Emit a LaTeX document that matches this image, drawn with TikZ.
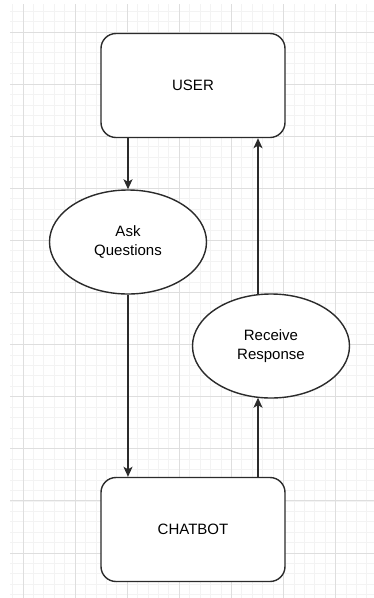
\documentclass[tikz,border=0pt]{standalone}
\usepackage{fontspec}
\setmainfont{Liberation Sans}
\usepackage{tikz}
\usetikzlibrary{shapes.geometric, arrows.meta, positioning, calc}
\definecolor{gridminor}{HTML}{F3F3F3}
\definecolor{gridmajor}{HTML}{DEDEDE}
\definecolor{linegray}{HTML}{2B2B2B}
\tikzset{
    entity/.style={rectangle, draw=linegray, line width=1.4pt, rounded corners=15pt, fill=white, align=center, minimum width=184pt, minimum height=104pt, font=\fontsize{15}{19}\selectfont},
    process/.style={ellipse, draw=linegray, line width=1.4pt, fill=white, align=center, minimum width=157pt, minimum height=104pt, inner sep=0pt, font=\fontsize{15}{19}\selectfont},
    arrow/.style={draw=linegray, line width=1.4pt, -{Stealth[length=10pt, width=9pt, inset=2.5pt]}}
}

\begin{document}
\begin{tikzpicture}[x=1pt, y=-1pt]

    \useasboundingbox (0,0) rectangle (374,598);
    \fill[white] (0,0) rectangle (374,598);

    % Grid background
    \foreach \i in {-1,...,34} \draw[gridminor, line width=0.8pt] ({23+10.42*\i},4) -- ({23+10.42*\i},598);
    \foreach \j in {-2,...,54} \draw[gridminor, line width=0.8pt] (10,{32+10.42*\j}) -- (374,{32+10.42*\j});
    \foreach \i in {0,...,6} \draw[gridmajor, line width=0.9pt] ({23+52.1*\i},4) -- ({23+52.1*\i},598);
    \foreach \j in {0,...,10} \draw[gridmajor, line width=0.9pt] (10,{32+52.1*\j}) -- (374,{32+52.1*\j});

    % Entities
    \node (user) [entity] at (193,85.5) {USER};
    \node (chatbot) [entity] at (193,529.5) {CHATBOT};

    % Processes
    \node (ask) [process] at (128,242) {Ask\\Questions};
    \node (receive) [process] at (271,346) {Receive\\Response};

    \coordinate (upline) at (258,0);

    % Flows
    \draw [arrow] (ask.north |- user.south) -- (ask.north);
    \draw [arrow] (ask.south) -- (ask.south |- chatbot.north);
    \draw [arrow] (upline |- chatbot.north) -- ($(upline |- receive.south)+(0,-1)$);
    \draw [arrow] ($(upline |- receive.north)+(0,1)$) -- (upline |- user.south);

\end{tikzpicture}
\end{document}
